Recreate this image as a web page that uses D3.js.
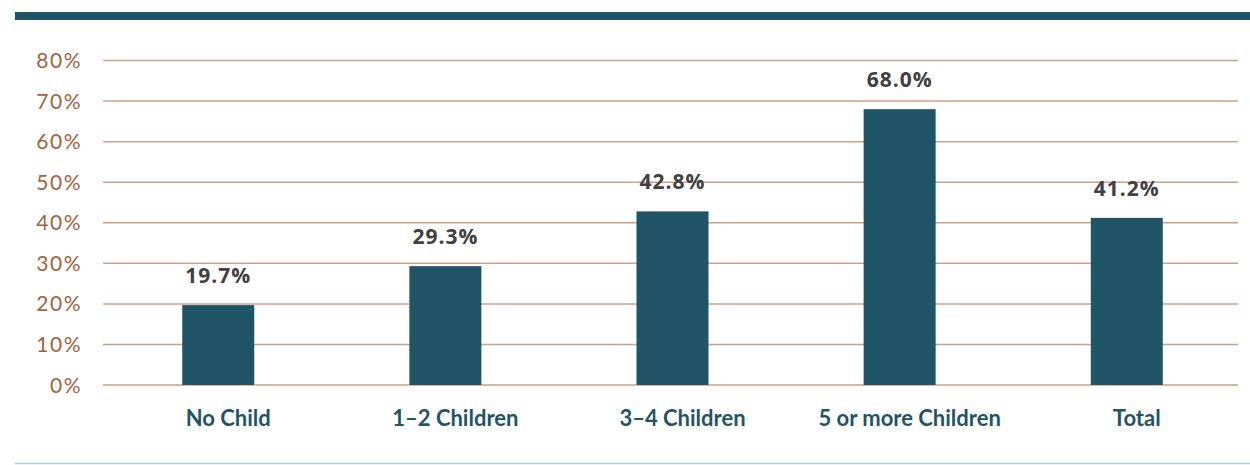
<!DOCTYPE html>
<html>
<head>
<meta charset="utf-8">
<script src="https://cdn.jsdelivr.net/npm/d3@7"></script>
<style>
  body { margin: 0; background: #fff; }
  svg { display: block; }
</style>
</head>
<body>
<svg id="chart"></svg>
<script>
// data
const categories = ['No Child', '1–2 Children', '3–4 Children', '5 or more Children', 'Total'];
const values = [19.7, 29.3, 42.8, 68.0, 41.2];
const yTicks = [0, 10, 20, 30, 40, 50, 60, 70, 80];

const width = 1250, height = 465;

const svg = d3.select('#chart')
    .attr('width', width)
    .attr('height', height);

// top banner + bottom rule
svg.append('rect')
    .attr('x', 15).attr('y', 12)
    .attr('width', width - 15).attr('height', 8)
    .attr('fill', '#1f5566');

svg.append('line')
    .attr('x1', 15).attr('x2', width)
    .attr('y1', 463.5).attr('y2', 463.5)
    .attr('stroke', '#b3c8d0')
    .attr('stroke-width', 1.5);

const xScale = d3.scaleBand()
    .domain(categories)
    .range([105, 1240])
    .paddingInner(0.683)
    .paddingOuter(0.34);

const yScale = d3.scaleLinear()
    .domain([0, 80])
    .range([385, 60.5]);

// gridlines
svg.append('g')
    .selectAll('line')
    .data(yTicks)
  .join('line')
    .attr('x1', 103)
    .attr('x2', 1238)
    .attr('y1', d => yScale(d))
    .attr('y2', d => yScale(d))
    .attr('stroke', '#cfa184')
    .attr('stroke-width', 1.5);

// y tick labels
svg.append('g')
    .selectAll('text')
    .data(yTicks)
  .join('text')
    .attr('x', 82)
    .attr('y', d => yScale(d))
    .attr('dy', '0.36em')
    .attr('text-anchor', 'end')
    .attr('font-family', 'Lato, "Open Sans", sans-serif')
    .attr('font-weight', 400)
    .attr('font-size', 21)
    .attr('letter-spacing', 1.5)
    .attr('fill', '#a5623e')
    .text(d => d + '%');

// bars
svg.append('g')
    .selectAll('rect')
    .data(values)
  .join('rect')
    .attr('x', (d, i) => xScale(categories[i]))
    .attr('y', d => yScale(d))
    .attr('width', xScale.bandwidth())
    .attr('height', d => yScale(0) - yScale(d))
    .attr('fill', '#1f5566');

// value labels
svg.append('g')
    .selectAll('text')
    .data(values)
  .join('text')
    .attr('x', (d, i) => xScale(categories[i]) + xScale.bandwidth() / 2)
    .attr('y', d => yScale(d) - 22)
    .attr('text-anchor', 'middle')
    .attr('font-family', '"Open Sans", sans-serif')
    .attr('font-weight', 700)
    .attr('font-size', 21)
    .attr('letter-spacing', 1)
    .attr('fill', '#404040')
    .text(d => d.toFixed(1) + '%');

// category labels
svg.append('g')
    .selectAll('text')
    .data(categories)
  .join('text')
    .attr('x', d => xScale(d) + xScale.bandwidth() / 2 + 10)
    .attr('y', 426)
    .attr('text-anchor', 'middle')
    .attr('font-family', 'Lato, sans-serif')
    .attr('font-weight', 700)
    .attr('font-size', 22)
    .attr('fill', '#1f5566')
    .text(d => d);
</script>
</body>
</html>
